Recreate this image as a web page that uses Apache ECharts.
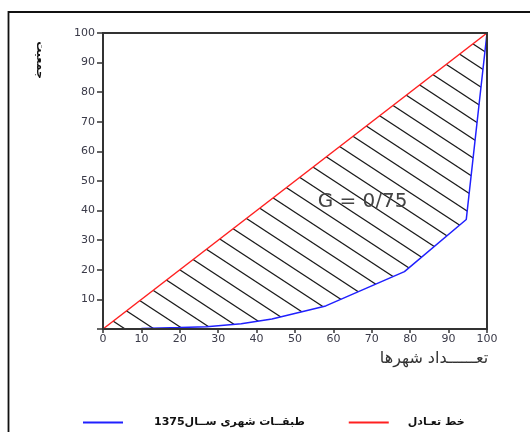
<!DOCTYPE html>
<html><head><meta charset="utf-8">
<script src="https://cdn.jsdelivr.net/npm/echarts@6/dist/echarts.min.js"></script>
<style>html,body{margin:0;padding:0;background:#fff}#c{width:530px;height:432px}</style>
</head><body><div id="c"></div>
<script>
// ---- data ----
const equalityX = [0, 100];
const equalityY = [0, 100];
const lorenzX = [0, 10, 20, 27, 36, 44, 51, 58, 78.5, 94.6, 100];
const lorenzY = [0, 0.2, 0.5, 0.8, 1.8, 3.4, 5.6, 7.8, 19.4, 37, 100];
const seriesNames = ['طبقــات شهری ســال1375', 'خط تعـادل'];
const giniLabel = 'G = 0/75';
const giniPos = [67.6, 43];
const xName = 'تعــــــداد شهرها';
const yName = 'جمعیت';
const axisMin = 0, axisMax = 100, axisStep = 10;

// ---- hatch pattern ----
const W = 29, H = 19;
const pc = document.createElement('canvas');
pc.width = W; pc.height = H;
const g = pc.getContext('2d');
g.fillStyle = '#fff'; g.fillRect(0, 0, W, H);
g.strokeStyle = '#1a1a1a'; g.lineWidth = 1.2;
for (const c of [-H, 0, H]) {
  g.beginPath();
  g.moveTo(-2, c - 2 * H / W);
  g.lineTo(W + 2, c + H + 2 * H / W);
  g.stroke();
}

const chart = echarts.init(document.getElementById('c'), null, {renderer: 'canvas'});
const labelFont = {fontFamily: 'DejaVu Sans', fontSize: 11, color: '#3a3a48'};
const option = {
  animation: false,
  backgroundColor: '#fff',
  grid: {left: 103, top: 33, right: 43, bottom: 103, show: true, borderColor: '#333', borderWidth: 2, z: 10, backgroundColor: 'transparent'},
  xAxis: {
    type: 'value', min: axisMin, max: axisMax, interval: axisStep, z: 10,
    axisLine: {lineStyle: {color: '#333', width: 2}},
    axisTick: {length: 4, lineStyle: {color: '#333', width: 1.5}},
    axisLabel: Object.assign({margin: 5}, labelFont),
    splitLine: {show: false}
  },
  yAxis: {
    type: 'value', min: axisMin, max: axisMax, interval: axisStep, z: 10,
    axisLine: {show: true, lineStyle: {color: '#333', width: 2}},
    axisTick: {show: true, length: 6, lineStyle: {color: '#333', width: 1.5}},
    axisLabel: Object.assign({margin: 8, formatter: v => v === 0 ? '' : String(v)}, labelFont),
    splitLine: {show: false}
  },
  legend: {
    left: 78, top: 412, itemWidth: 40, itemHeight: 2, itemGap: 44, icon: 'rect',
    data: [seriesNames[0], seriesNames[1]],
    formatter: name => (name === seriesNames[0] ? '{a|' : '{b|') + name + '}',
    textStyle: {rich: {
      a: {padding: [0, 0, 0, 26], fontFamily: 'DejaVu Sans', fontSize: 11, fontWeight: 'bold', color: '#111'},
      b: {padding: [0, 0, 0, 14], fontFamily: 'DejaVu Sans', fontSize: 11, fontWeight: 'bold', color: '#111'}
    }}
  },
  series: [
    {
      name: seriesNames[1], type: 'line', symbol: 'none',
      data: equalityX.map((x, i) => [x, equalityY[i]]),
      lineStyle: {color: '#ff2020', width: 1.5},
      itemStyle: {color: '#ff2020'},
      areaStyle: {color: {image: pc, repeat: 'repeat'}, opacity: 1}
    },
    {
      name: seriesNames[0], type: 'line', symbol: 'none',
      data: lorenzX.map((x, i) => [x, lorenzY[i]]),
      lineStyle: {color: '#2020ff', width: 1.5},
      itemStyle: {color: '#2020ff'},
      areaStyle: {color: '#fff', opacity: 1}
    }
  ]
};
chart.setOption(option);
const gp = chart.convertToPixel({gridIndex: 0}, giniPos);
chart.setOption({
  graphic: [
    {type: 'rect', shape: {x: 8.5, y: 12, width: 560, height: 460}, style: {fill: 'none', stroke: '#111', lineWidth: 1.8}, z: 1, silent: true},
    {type: 'text', x: gp[0], y: gp[1], z: 20, style: {text: giniLabel, fontFamily: 'DejaVu Sans', fontSize: 20, fill: '#444', align: 'center', verticalAlign: 'middle'}},
    {type: 'text', x: 434, y: 359, z: 20, style: {text: xName, fontFamily: 'DejaVu Sans', fontSize: 16, fill: '#333', align: 'center', verticalAlign: 'middle'}},
    {type: 'text', x: 40, y: 60, rotation: -Math.PI / 2, z: 20, style: {text: yName, fontFamily: 'DejaVu Sans', fontSize: 11, fontWeight: 'bold', fill: '#111', align: 'center', verticalAlign: 'middle'}}
  ]
});
</script></body></html>
